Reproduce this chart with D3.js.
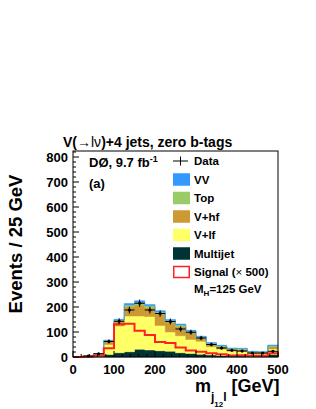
<!DOCTYPE html>
<html>
<head>
<meta charset="utf-8">
<script src="https://cdn.jsdelivr.net/npm/d3@7"></script>
<style>
  body { margin: 0; background: #fff; }
  svg { display: block; font-family: "Liberation Sans", Arial, Helvetica, sans-serif; font-weight: bold; }
</style>
</head>
<body>
<div id="chart"></div>
<script>
// bin low edges (GeV), bin width 25
const binLow = [0, 25, 50, 75, 100, 125, 150, 175, 200, 225, 250, 275, 300, 325, 350, 375, 400, 425, 450, 475];
const binWidth = 25;

// background components, events per bin (stacked bottom -> top)
const multijet = [0, 0.5, 2, 10, 17, 21, 31, 28, 25, 23, 17, 14, 11, 8, 6, 5, 5, 4, 4, 10];
const vlf      = [0, 1, 7, 40, 107, 143, 133, 134, 101, 77, 68, 56, 52, 33, 26, 18, 17, 8, 8, 22];
const vhf      = [0, 0.5, 3, 12, 21, 38, 44, 36, 46, 40, 37, 27, 13, 10, 9, 8, 8, 7, 6, 10];
const topQuark = [0, 0, 1, 3, 3, 6, 10, 7, 8, 6, 6, 6, 4, 4, 3, 3, 3, 2, 2, 3];
const diboson  = [0, 0.3, 1, 3, 3, 6, 7, 5, 5, 4, 4, 4, 3, 3, 3, 2, 2, 2, 1, 3];

// signal (x500) and data
const signal = [0, 2, 5, 35, 131, 133, 105, 88, 60, 56, 38, 26, 21, 15, 11, 6, 7, 5, 5, 15];
const data   = [0, 4, 13, 62, 143, 188, 215, 188, 174, 142, 112, 99, 76, 50, 36, 27, 24, 16, 16, 23];

const yTicks = [0, 100, 200, 300, 400, 500, 600, 700, 800];
const xTicks = [0, 100, 200, 300, 400, 500];

const layers = [
    {name: "Multijet", values: multijet, color: "#003333"},
    {name: "V+lf", values: vlf, color: "#ffff66"},
    {name: "V+hf", values: vhf, color: "#cc9933"},
    {name: "Top", values: topQuark, color: "#99cc66"},
    {name: "VV", values: diboson, color: "#3399ff"}
];

const width = 316, height = 409;
const margin = {left: 73, right: 38, top: 151, bottom: 52};

const svg = d3.select("#chart").append("svg")
    .attr("width", width)
    .attr("height", height);

const x = d3.scaleLinear().domain([0, 500]).range([margin.left, width - margin.right]);
const y = d3.scaleLinear().domain([0, 824]).range([height - margin.bottom, margin.top]);

// Stack the backgrounds
let base = binLow.map(() => 0);
const stacked = layers.map(l => {
    const low = base.slice();
    const high = base.map((b, i) => b + l.values[i]);
    base = high;
    return {name: l.name, color: l.color, low, high};
});

const stepPoints = (low, high) => {
    const pts = binLow.map((b, i) => ({x: b, y0: low[i], y1: high[i]}));
    const n = binLow.length - 1;
    pts.push({x: binLow[n] + binWidth, y0: low[n], y1: high[n]});
    return pts;
};

const area = d3.area()
    .curve(d3.curveStepAfter)
    .x(d => x(d.x))
    .y0(d => y(d.y0))
    .y1(d => y(d.y1));

svg.append("g").selectAll("path")
    .data(stacked)
    .enter().append("path")
    .attr("d", d => area(stepPoints(d.low, d.high)))
    .attr("fill", d => d.color)
    .attr("stroke", d => d.color)
    .attr("stroke-width", 0.5);

// Signal outline
const sigPts = binLow.map((b, i) => [b, signal[i]]);
sigPts.push([500, signal[signal.length - 1]]);
sigPts.push([500, 0]);
svg.append("path")
    .attr("d", d3.line().curve(d3.curveStepAfter).x(d => x(d[0])).y(d => y(d[1]))(sigPts))
    .attr("fill", "none")
    .attr("stroke", "#ff2222")
    .attr("stroke-width", 2);

// Data points with errors
const pts = svg.append("g").selectAll("g")
    .data(binLow.map((b, i) => ({c: b + binWidth / 2, v: data[i]})).filter(d => d.v > 0))
    .enter().append("g");
pts.append("line")
    .attr("x1", d => x(d.c - binWidth / 2)).attr("x2", d => x(d.c + binWidth / 2))
    .attr("y1", d => y(d.v)).attr("y2", d => y(d.v))
    .attr("stroke", "#000").attr("stroke-width", 1);
pts.append("line")
    .attr("x1", d => x(d.c)).attr("x2", d => x(d.c))
    .attr("y1", d => y(d.v + Math.sqrt(d.v))).attr("y2", d => y(Math.max(0, d.v - Math.sqrt(d.v))))
    .attr("stroke", "#000").attr("stroke-width", 1);
pts.append("circle")
    .attr("cx", d => x(d.c)).attr("cy", d => y(d.v))
    .attr("r", 1.6).attr("fill", "#000");

// Frame
svg.append("rect")
    .attr("x", x(0)).attr("y", y(824))
    .attr("width", x(500) - x(0)).attr("height", y(0) - y(824))
    .attr("fill", "none").attr("stroke", "#000").attr("stroke-width", 1);

// Y axis ticks (inward)
const yAxis = svg.append("g");
yAxis.selectAll(".ymin").data(d3.range(0, 821, 20)).enter().append("line")
    .attr("x1", x(0)).attr("x2", d => x(0) + (d % 100 === 0 ? 6 : 3))
    .attr("y1", d => y(d)).attr("y2", d => y(d))
    .attr("stroke", "#000");
yAxis.selectAll("text").data(yTicks).enter().append("text")
    .attr("x", x(0) - 5).attr("y", d => y(d) + 4.5)
    .attr("text-anchor", "end")
    .attr("font-size", 13)
    .text(d => d);

// X axis ticks (inward)
const xAxis = svg.append("g");
xAxis.selectAll(".xmin").data(d3.range(0, 501, 20)).enter().append("line")
    .attr("x1", d => x(d)).attr("x2", d => x(d))
    .attr("y1", y(0)).attr("y2", d => y(0) - (d % 100 === 0 ? 6 : 3))
    .attr("stroke", "#000");
xAxis.selectAll("text").data(xTicks).enter().append("text")
    .attr("x", d => x(d)).attr("y", y(0) + 17)
    .attr("text-anchor", "middle")
    .attr("font-size", 13)
    .text(d => d);

// Title and labels
const title = svg.append("text").attr("x", 63).attr("y", 147).attr("font-size", 14);
title.append("tspan").text("V(");
title.append("tspan").attr("font-weight", "normal").text("\u2192l\u03bd");
title.append("tspan").text(")+4 jets, zero b-tags");

const lumi = svg.append("text").attr("x", 89).attr("y", 167).attr("font-size", 13);
lumi.append("tspan").text("D\u00d8, 9.7 fb");
lumi.append("tspan").attr("font-size", 9).attr("dy", -5).text("-1");
svg.append("text").attr("x", 89).attr("y", 188).attr("font-size", 13).text("(a)");

svg.append("text")
    .attr("transform", "translate(22,244) rotate(-90)")
    .attr("text-anchor", "middle")
    .attr("font-size", 18.5)
    .text("Events / 25 GeV");

const xl = svg.append("text").attr("x", 195).attr("y", 392).attr("font-size", 18);
xl.append("tspan").text("m");
xl.append("tspan").attr("font-size", 12).attr("dy", 9).text("j");
xl.append("tspan").attr("font-size", 8).attr("dy", 6).text("12");
xl.append("tspan").attr("font-size", 12).attr("dy", -6).text("l");
xl.append("tspan").attr("dy", -9).text(" [GeV]");

// Legend
const legendY0 = 161, legendStep = 18.5;
const lx = 173, boxW = 17, boxH = 12.5;
const leg = svg.append("g").attr("font-size", 11.5);

// Data entry
leg.append("line").attr("x1", lx).attr("x2", lx + boxW - 2).attr("y1", legendY0).attr("y2", legendY0).attr("stroke", "#000");
leg.append("line").attr("x1", lx + boxW / 2 - 1).attr("x2", lx + boxW / 2 - 1).attr("y1", legendY0 - 4.5).attr("y2", legendY0 + 4.5).attr("stroke", "#000");
leg.append("text").attr("x", lx + 21).attr("y", legendY0 + 4).text("Data");

const legendEntries = layers.slice().reverse();
legendEntries.forEach((l, i) => {
    const cy = legendY0 + legendStep * (i + 1);
    leg.append("rect").attr("x", lx).attr("y", cy - boxH / 2).attr("width", boxW).attr("height", boxH).attr("fill", l.color);
    leg.append("text").attr("x", lx + 21).attr("y", cy + 4).text(l.name);
});
const sy = legendY0 + legendStep * 6;
leg.append("rect").attr("x", lx + 0.75).attr("y", sy - boxH / 2 + 0.75).attr("width", boxW - 1.5).attr("height", boxH - 1.5)
    .attr("fill", "#fff").attr("stroke", "#ff2222").attr("stroke-width", 1.5);
const st = leg.append("text").attr("x", lx + 21).attr("y", sy + 4);
st.append("tspan").text("Signal (");
st.append("tspan").attr("font-weight", "normal").text("\u00d7");
st.append("tspan").text(" 500)");

const mh = leg.append("text").attr("x", lx + 21).attr("y", legendY0 + legendStep * 7 + 2);
mh.append("tspan").text("M");
mh.append("tspan").attr("font-size", 8).attr("dy", 3).text("H");
mh.append("tspan").attr("dy", -3).text("=125 GeV");
</script>
</body>
</html>
